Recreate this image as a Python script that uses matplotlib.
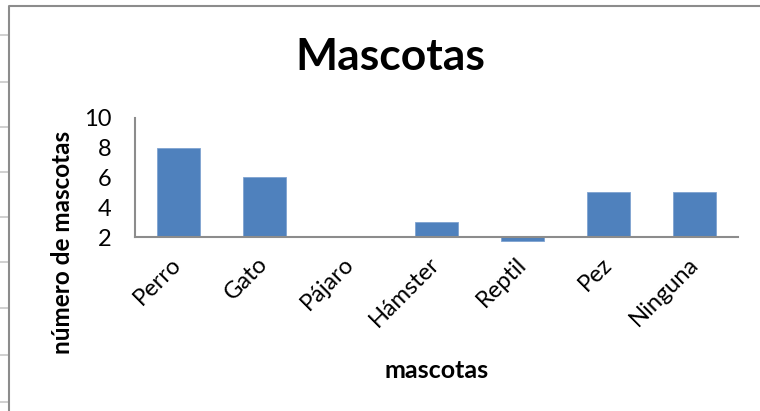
import numpy as np
import matplotlib
matplotlib.use("Agg")
import matplotlib.pyplot as plt
from matplotlib.lines import Line2D

# Pet survey data
categorias = ["Perro", "Gato", "Pájaro", "Hámster", "Reptil", "Pez", "Ninguna"]
valores = [8, 6, 2, 3, 1.75, 5, 5]
y_ticks = [2, 4, 6, 8, 10]

BASE = 2
AZUL = "#4F81BD"
GRIS = "#8c8c8c"

plt.rcParams["font.family"] = ["Lato", "DejaVu Sans"]

W, H = 760, 411
fig = plt.figure(figsize=(W / 100, H / 100), dpi=100)

def px(x, y):
    return x / W, 1 - y / H

# spreadsheet row lines showing at the left of the chart
for yy in [35, 82, 127, 172, 217, 262, 308, 355, 402]:
    fig.add_artist(Line2D([0, 8 / W], [1 - yy / H] * 2, color="#c8c8c8", lw=1.2))

# chart area border (left and top)
fig.add_artist(Line2D([9 / W, 9 / W, 1], [0, 1 - 6 / H, 1 - 6 / H], color=GRIS, lw=1.5))

ax = fig.add_axes([135 / W, 1 - 237 / H, (738 - 135) / W, (237 - 118) / H])
x = np.arange(len(categorias))
alturas = [v - BASE for v in valores]
bars = ax.bar(x, alturas, bottom=BASE, width=0.5, color=AZUL, edgecolor="#7fa3d1", linewidth=0.6)
for b in bars:
    b.set_clip_on(False)

ax.set_xlim(-0.5, len(categorias) - 0.5)
ax.set_ylim(2, 10)
ax.set_yticks(y_ticks)
ax.set_xticks(x)
ax.set_xticklabels(categorias, rotation=45, ha="right", va="center", rotation_mode="anchor")
ax.tick_params(axis="both", length=0, labelsize=17, colors="black")
ax.tick_params(axis="y", pad=17)
ax.tick_params(axis="x", pad=17)
for s in ["top", "right"]:
    ax.spines[s].set_visible(False)
for s in ["left", "bottom"]:
    ax.spines[s].set_color(GRIS)
    ax.spines[s].set_linewidth(1.5)
ax.set_facecolor("none")

fig.text(*px(390, 57), "Mascotas", fontsize=32, fontweight="bold", ha="center", va="center")
fig.text(*px(437, 370), "mascotas", fontsize=18, fontweight="bold", ha="center", va="center")
fig.text(*px(62, 242), "número de mascotas", fontsize=17.5, fontweight="bold",
         rotation=90, ha="center", va="center")

fig.savefig("out.png", dpi=100)
